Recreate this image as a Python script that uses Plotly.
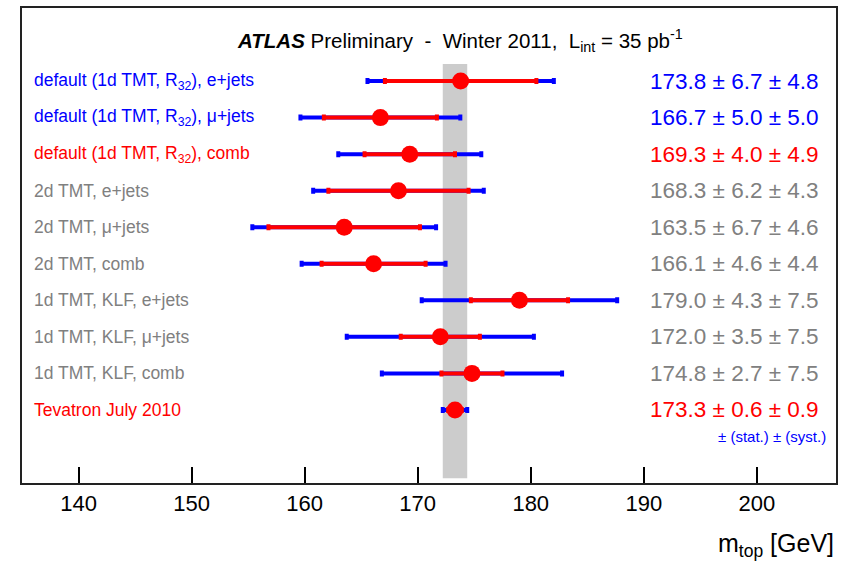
import numpy as np
import plotly.graph_objects as go

# Top-mass measurements, listed top to bottom
labels = [
    "default (1d TMT, R<sub>32</sub>), e+jets",
    "default (1d TMT, R<sub>32</sub>), \u03bc+jets",
    "default (1d TMT, R<sub>32</sub>), comb",
    "2d TMT, e+jets",
    "2d TMT, \u03bc+jets",
    "2d TMT, comb",
    "1d TMT, KLF, e+jets",
    "1d TMT, KLF, \u03bc+jets",
    "1d TMT, KLF, comb",
    "Tevatron July 2010",
]
mass = [173.8, 166.7, 169.3, 168.3, 163.5, 166.1, 179.0, 172.0, 174.8, 173.3]
stat = [6.7, 5.0, 4.0, 6.2, 6.7, 4.6, 4.3, 3.5, 2.7, 0.6]
syst = [4.8, 5.0, 4.9, 4.3, 4.6, 4.4, 7.5, 7.5, 7.5, 0.9]
label_colors = ["#0000ff", "#0000ff", "#ff0000", "#808080", "#808080",
                "#808080", "#808080", "#808080", "#808080", "#ff0000"]

x_ticks = [140, 150, 160, 170, 180, 190, 200]

mass = np.array(mass)
stat = np.array(stat)
syst = np.array(syst)
total = np.sqrt(stat ** 2 + syst ** 2)
n = len(labels)
rows = np.arange(n, 0, -1)  # first entry drawn at the top

FONT = "Liberation Sans, Arial, Helvetica, sans-serif"

fig = go.Figure()

# Tevatron combination band
tev = n - 1
fig.add_shape(type="rect", xref="x", yref="y",
              x0=mass[tev] - total[tev], x1=mass[tev] + total[tev],
              y0=-0.87, y1=10.47, fillcolor="#cccccc", line_width=0,
              layer="below")

# total uncertainty (blue)
fig.add_trace(go.Scatter(
    x=mass, y=rows, mode="markers",
    marker=dict(size=1, color="rgba(0,0,0,0)"),
    error_x=dict(type="data", array=total, color="#0000ff",
                 thickness=4, width=3),
    hoverinfo="skip", showlegend=False))

# statistical uncertainty (red) with central value
fig.add_trace(go.Scatter(
    x=mass, y=rows, mode="markers",
    marker=dict(size=17, color="#ff0000"),
    error_x=dict(type="data", array=stat, color="#ff0000",
                 thickness=4, width=3),
    showlegend=False))

annotations = []
for i in range(n):
    annotations.append(dict(
        x=0.0125, xref="paper", y=rows[i], yref="y",
        text=labels[i], showarrow=False, xanchor="left", yanchor="middle",
        font=dict(family=FONT, size=17.5, color=label_colors[i])))
    value_text = f"{mass[i]:.1f} \u00b1 {stat[i]:.1f} \u00b1 {syst[i]:.1f}"
    annotations.append(dict(
        x=0.982, xref="paper", y=rows[i], yref="y",
        text=value_text, showarrow=False, xanchor="right", yanchor="middle",
        font=dict(family=FONT, size=22.5, color=label_colors[i])))

annotations.append(dict(
    x=0.99, xref="paper", y=0.27, yref="y",
    text="\u00b1 (stat.) \u00b1 (syst.)", showarrow=False,
    xanchor="right", yanchor="middle",
    font=dict(family=FONT, size=15, color="#0000ff")))

annotations.append(dict(
    x=0.538, xref="paper", y=11.1, yref="y",
    text="<b><i>ATLAS</i></b> Preliminary  -  Winter 2011,  L<sub>int</sub> = 35 pb<sup>-1</sup>",
    showarrow=False, xanchor="center", yanchor="middle",
    font=dict(family=FONT, size=20.5, color="#000000")))

annotations.append(dict(
    x=1.0, xref="paper", y=-0.13, yref="paper",
    text="m<sub>top</sub> [GeV]", showarrow=False,
    xanchor="right", yanchor="middle",
    font=dict(family=FONT, size=25, color="#000000")))

fig.update_layout(
    width=847, height=561,
    margin=dict(l=22, r=11, t=6, b=78),
    paper_bgcolor="white", plot_bgcolor="white",
    annotations=annotations,
    xaxis=dict(range=[135, 207], tickvals=x_ticks, ticks="inside",
               ticklen=16, tickwidth=1.5, tickcolor="#000000",
               showline=True, linewidth=2, linecolor="#222222", mirror=True,
               showgrid=False, zeroline=False,
               tickfont=dict(family=FONT, size=22, color="#000000")),
    yaxis=dict(range=[-1, 12], showticklabels=False, ticks="",
               showline=True, linewidth=2, linecolor="#222222", mirror=True,
               showgrid=False, zeroline=False),
)

fig.write_html("out.html")
